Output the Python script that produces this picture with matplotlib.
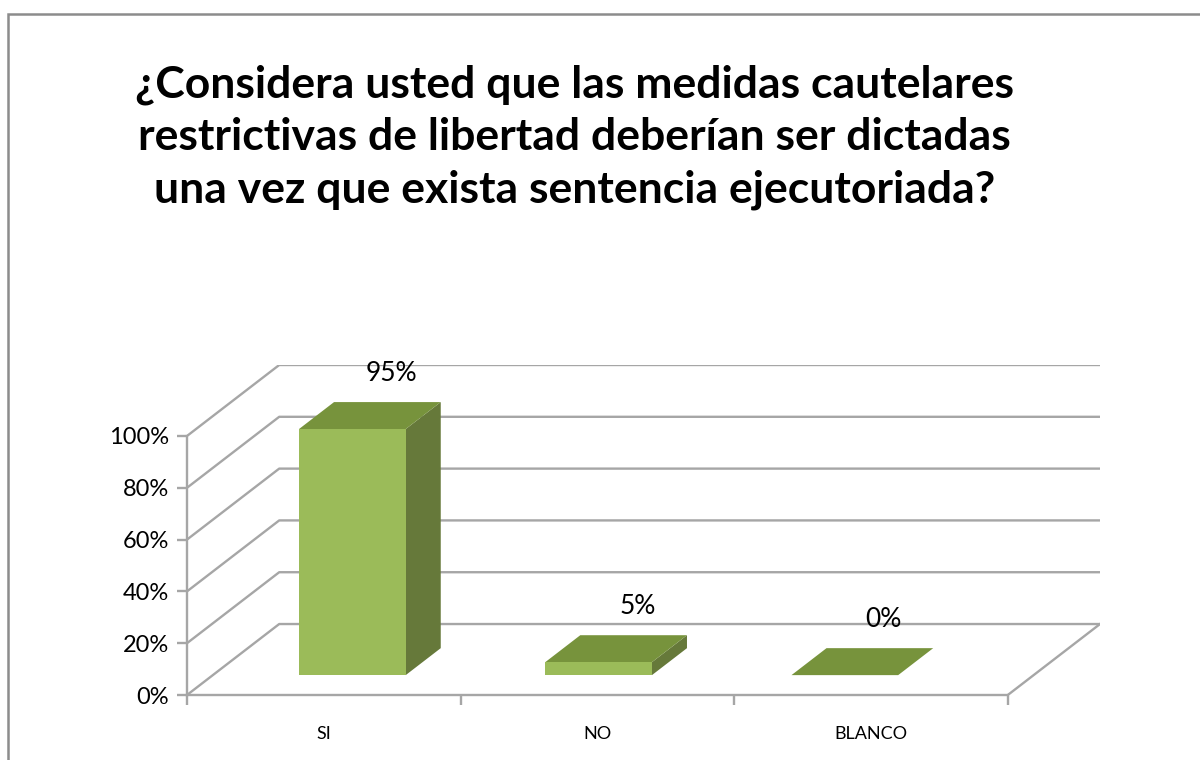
import matplotlib.pyplot as plt
from matplotlib.patches import Polygon, Rectangle

# survey answers
categories = ["SI", "NO", "BLANCO"]
values = [95, 5, 0]
labels = ["95%", "5%", "0%"]
y_ticks = [0, 20, 40, 60, 80, 100]
y_ticklabels = ["0%", "20%", "40%", "60%", "80%", "100%"]

title = ("¿Considera usted que las medidas cautelares\n"
         "restrictivas de libertad deberían ser dictadas\n"
         "una vez que exista sentencia ejecutoriada?")

plt.rcParams['font.family'] = ['Lato', 'DejaVu Sans']

# fake 3d: depth offset in data units
DX, DY = 0.337, 27.4
z0, z1 = 0.28, 0.66
bar_w = 0.39
grid_c = '#a6a6a6'
front_c, top_c, side_c = '#9bbb59', '#77933c', '#66793a'


def proj(x, y, z):
    return (x + z * DX, y + z * DY)


fig = plt.figure(figsize=(12, 7.6), dpi=100)
ax = fig.add_axes([187 / 1200, 65 / 760, 913 / 1200, 330 / 760])
ax.set_xlim(0, 3 + DX)
ax.set_ylim(0, 100 + DY)

# walls and gridlines
for v in y_ticks:
    x0, y0 = proj(0, v, 0)
    x1, y1 = proj(0, v, 1)
    x2, y2 = proj(3, v, 1)
    ax.plot([x0, x1, x2], [y0, y1, y2], color=grid_c, lw=1.7, zorder=1,
            solid_capstyle='butt')
xa, ya = proj(3, 0, 0)
xb, yb = proj(3, 0, 1)
ax.plot([xa, xb], [ya, yb], color=grid_c, lw=1.7, zorder=1)

# bars
for i, v in enumerate(values):
    c = 0.51 + 0.9 * i
    l, r = c - bar_w / 2, c + bar_w / 2
    front = [proj(l, 0, z0), proj(r, 0, z0), proj(r, v, z0), proj(l, v, z0)]
    side = [proj(r, 0, z0), proj(r, 0, z1), proj(r, v, z1), proj(r, v, z0)]
    top = [proj(l, v, z0), proj(r, v, z0), proj(r, v, z1), proj(l, v, z1)]
    ax.add_patch(Polygon(side, closed=True, fc=side_c, ec='none', zorder=3))
    ax.add_patch(Polygon(top, closed=True, fc=top_c, ec='none', zorder=3))
    if v > 0:
        ax.add_patch(Polygon(front, closed=True, fc=front_c, ec='none', zorder=4))
    lx, ly = proj(c, v, 0.7)
    ax.text(lx, ly + 10, labels[i], ha='center', va='center', fontsize=19,
            color='black')

for s in ['top', 'right']:
    ax.spines[s].set_visible(False)
ax.spines['left'].set_bounds(0, 100)
ax.spines['bottom'].set_bounds(0, 3)
ax.spines['left'].set_color(grid_c)
ax.spines['bottom'].set_color(grid_c)
ax.spines['left'].set_linewidth(1.7)
ax.spines['bottom'].set_linewidth(1.7)

ax.set_yticks(y_ticks)
ax.set_yticklabels(y_ticklabels, fontsize=17)
ax.set_xticks([0, 1, 2, 3])
ax.set_xticklabels([])
ax.set_xticks([0.5, 1.5, 2.5], minor=True)
ax.set_xticklabels(categories, minor=True, fontsize=13)
ax.tick_params(axis='both', which='major', color=grid_c, length=7, width=1.7)
ax.tick_params(axis='x', which='minor', length=0, pad=22)
ax.tick_params(axis='y', pad=6)

fig.text(0.479, 1 - 137 / 760, title, ha='center', va='center',
         fontsize=32, fontweight='bold', linespacing=1.37)

# chart area border
fig.patches.append(Rectangle((7.5 / 1200, -0.05), 1.1, 1.05 - 13.5 / 760,
                             transform=fig.transFigure, fill=False,
                             ec='#8c8c8c', lw=1.8))

fig.savefig('out.png', dpi=100)
